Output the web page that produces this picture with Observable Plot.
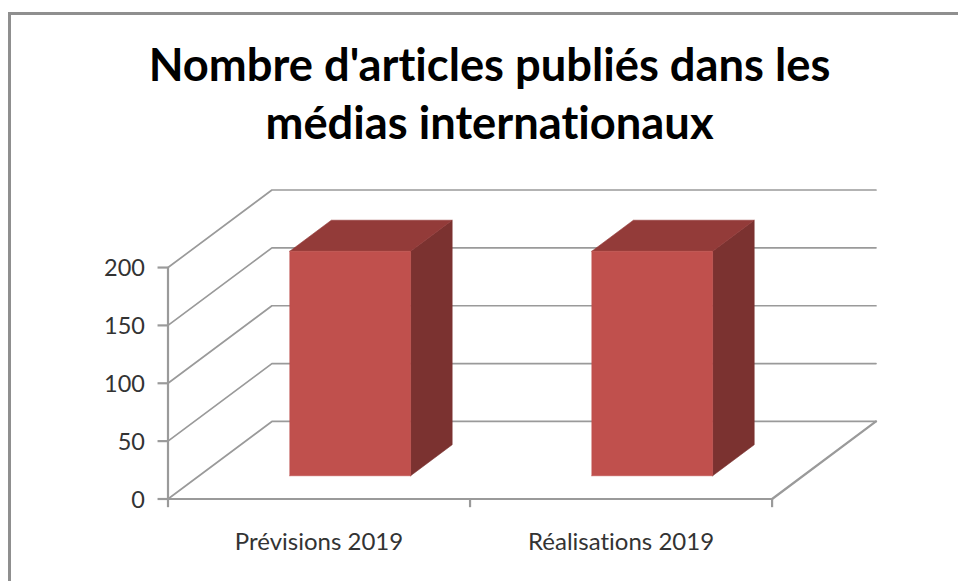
<!DOCTYPE html>
<html>
<head>
<meta charset="utf-8">
<script src="https://cdn.jsdelivr.net/npm/d3@7"></script>
<script src="https://cdn.jsdelivr.net/npm/@observablehq/plot@0.6"></script>
<style>
html,body{margin:0;padding:0;background:#fff;overflow:hidden}
#frame{position:absolute;left:8px;top:12px;width:1000px;height:640px;border:3px solid #8f8f8f;box-sizing:border-box}
#title{position:absolute;left:0;top:35px;width:979px;text-align:center;font:bold 45.3px/57.5px Lato,"Open Sans",sans-serif;color:#000;font-variant-ligatures:none}
#chart{position:absolute;left:0;top:0}
svg{background:transparent}
svg text{font-variant-ligatures:none}
</style>
</head>
<body>
<div id="frame"></div>
<div id="chart"></div>
<div id="title">Nombre d'articles publiés dans les<br>médias internationaux</div>
<script>
const categories = ["Prévisions 2019", "Réalisations 2019"];
const values = [194, 194];
const yTicks = [0, 50, 100, 150, 200];
const title = "Nombre d'articles publiés dans les médias internationaux";

// oblique projection in data units: depth 0 = front plane, depth 1 = back wall
const depthX = 0.344, depthY = 67;
const project = (x, y, d) => ({x: x + d * depthX, y: y + d * depthY});
const poly = (pts) => pts.map(([x, y, d]) => project(x, y, d));

const grey = "#9a9a9a";
const n = categories.length;
const wall = yTicks.map((t) => poly([[0, t, 0], [0, t, 1], [n, t, 1]]));
const floor = poly([[0, 0, 0], [n, 0, 0], [n, 0, 1]]);
const axisV = poly([[0, 0, 0], [0, 200, 0]]);

const barMarks = values.flatMap((v, i) => {
  const a = i + 0.3, b = i + 0.7, d0 = 0.3, d1 = 0.7;
  const front = poly([[a, 0, d0], [b, 0, d0], [b, v, d0], [a, v, d0]]);
  const top = poly([[a, v, d0], [b, v, d0], [b, v, d1], [a, v, d1]]);
  const side = poly([[b, 0, d0], [b, 0, d1], [b, v, d1], [b, v, d0]]);
  const face = (pts, fill) => Plot.line([...pts, pts[0]], {x: "x", y: "y", fill, stroke: fill, strokeWidth: 0.6});
  return [face(side, "#7b3230"), face(top, "#933b39"), face(front, "#c0504d")];
});

const line = (pts, w = 1.7) => Plot.line(pts, {x: "x", y: "y", stroke: grey, strokeWidth: w});

const chart = Plot.plot({
  width: 958,
  height: 581,
  marginLeft: 167.5,
  marginRight: 82.5,
  marginTop: 189.5,
  marginBottom: 82.5,
  style: {background: "transparent", fontFamily: "Lato, sans-serif", overflow: "visible"},
  x: {type: "linear", domain: [0, n + depthX], axis: null},
  y: {type: "linear", domain: [0, 200 + depthY], axis: null},
  marks: [
    ...wall.map((w) => line(w)),
    line(floor, 2.2),
    line(axisV, 2.2),
    ...barMarks,
    Plot.ruleY(yTicks, {y: (d) => d, x1: -0.033, x2: 0, stroke: grey, strokeWidth: 2.2}),
    Plot.ruleX(d3.range(n + 1), {x: (d) => d, y1: -7.5, y2: 0, stroke: grey, strokeWidth: 2.2}),
    Plot.text(yTicks, {x: 0, y: (d) => d, text: (d) => String(d), textAnchor: "end", dx: -23, dy: 1, fontSize: 23.5, fill: "#333333"}),
    Plot.text(categories, {x: (d, i) => i + 0.5, y: 0, text: (d) => d, dy: 43, fontSize: 24, fill: "#333333"})
  ]
});
chart.setAttribute("aria-label", title);
document.getElementById("chart").append(chart);
</script>
</body>
</html>
